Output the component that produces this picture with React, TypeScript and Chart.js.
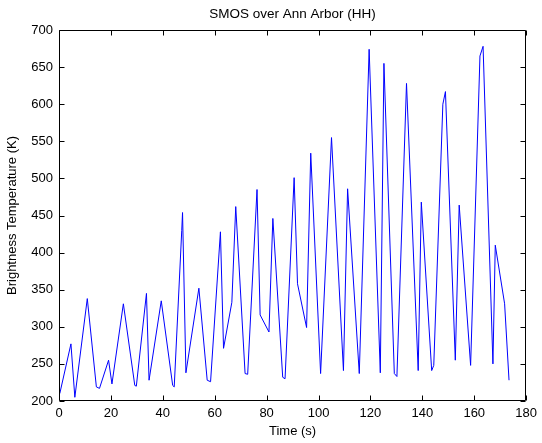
import React, { useEffect, useRef } from "react";
import { Chart, registerables } from "chart.js";
Chart.register(...registerables);

const titleText = "SMOS over Ann Arbor (HH)";
const xLabel = "Time (s)";
const yLabel = "Brightness Temperature (K)";

const times = [
  0.3, 4.6, 6.1, 10.9, 14.4, 15.6, 19.1, 20.4, 24.8, 29.2, 29.8, 33.7, 34.7,
  39.4, 43.8, 44.4, 47.3, 47.6, 48.9, 53.9, 57.1, 58.4, 62.2, 63.4, 66.6,
  68.1, 71.7, 72.7, 76.3, 77.5, 80.9, 82.4, 86.2, 87.1, 90.6, 91.9, 95.4,
  97.0, 100.8, 105.0, 109.6, 111.2, 115.7, 119.5, 123.8, 125.2, 129.2, 130.2,
  133.9, 138.4, 139.6, 143.6, 144.4, 147.9, 148.9, 152.7, 154.2, 158.6,
  162.2, 163.4, 167.2, 168.1, 171.7, 173.4,
];
const values = [
  210, 277, 205, 338, 219, 217, 255, 223, 331, 221, 220, 345, 228,
  335, 221, 219, 430, 454, 238, 352, 228, 226, 428, 271, 333,
  462, 237, 236, 485, 316, 293, 446, 232, 230, 501, 358, 299,
  534, 237, 555, 241, 486, 237, 674, 238, 655, 237, 233,
  628, 241, 468, 241, 248, 600, 617, 255, 464, 248,
  665, 678, 250, 410, 331, 228,
];

const xMin = 0, xMax = 180, xStep = 20;
const yMin = 200, yMax = 700, yStep = 50;

const FONT = "'Liberation Sans', Arial, Helvetica, sans-serif";

export default function App() {
  const ref = useRef<HTMLCanvasElement>(null);
  useEffect(() => {
    if (!ref.current) return;
    const framePlugin = {
      id: "matlabFrame",
      afterDraw(chart: any) {
        const { ctx, chartArea: a, scales } = chart;
        ctx.save();
        ctx.strokeStyle = "#000";
        ctx.lineWidth = 1;
        const L = Math.round(a.left) + 0.5;
        const R = Math.round(a.right) - 0.5;
        const T = Math.round(a.top) + 0.5;
        const B = Math.round(a.bottom) - 0.5;
        ctx.beginPath();
        ctx.rect(L, T, R - L, B - T);
        const len = 5;
        scales.x.ticks.forEach((t: any) => {
          const px = Math.round(scales.x.getPixelForValue(t.value)) + 0.5;
          ctx.moveTo(px, B);
          ctx.lineTo(px, B - len);
          ctx.moveTo(px, T);
          ctx.lineTo(px, T + len);
        });
        scales.y.ticks.forEach((t: any) => {
          const py = Math.round(scales.y.getPixelForValue(t.value)) + 0.5;
          ctx.moveTo(L, py);
          ctx.lineTo(L + len, py);
          ctx.moveTo(R, py);
          ctx.lineTo(R - len, py);
        });
        ctx.stroke();
        ctx.fillStyle = "#000";
        ctx.font = `13.5px ${FONT}`;
        ctx.textAlign = "center";
        ctx.textBaseline = "middle";
        ctx.fillText(titleText, (a.left + a.right) / 2, 14);
        ctx.restore();
      },
    };
    const chart = new Chart(ref.current, {
      type: "line",
      data: {
        datasets: [
          {
            data: times.map((t, i) => ({ x: t, y: values[i] })),
            borderColor: "#0000ff",
            borderWidth: 1,
            pointRadius: 0,
            tension: 0,
            fill: false,
          },
        ],
      },
      options: {
        animation: false,
        responsive: true,
        maintainAspectRatio: false,
        layout: { padding: { top: 30, right: 12, left: 0, bottom: 0 } },
        plugins: {
          legend: { display: false },
          tooltip: { enabled: false },
          title: { display: false },
        },
        scales: {
          x: {
            type: "linear",
            min: xMin,
            max: xMax,
            grid: { display: false, drawTicks: false },
            border: { display: false },
            ticks: {
              stepSize: xStep,
              color: "#000",
              padding: 5,
              font: { family: FONT, size: 13 },
              maxRotation: 0,
            },
            title: {
              display: true,
              text: xLabel,
              color: "#000",
              font: { family: FONT, size: 13 },
              padding: { top: 0, bottom: 4 },
            },
            afterFit(scale: any) {
              scale.height = 42;
            },
          },
          y: {
            type: "linear",
            min: yMin,
            max: yMax,
            grid: { display: false, drawTicks: false },
            border: { display: false },
            ticks: {
              stepSize: yStep,
              color: "#000",
              padding: 6,
              font: { family: FONT, size: 13 },
            },
            title: {
              display: true,
              text: yLabel,
              color: "#000",
              font: { family: FONT, size: 13 },
              padding: { top: 5, bottom: 0 },
            },
            afterFit(scale: any) {
              scale.width = 59;
            },
          },
        },
      },
      plugins: [framePlugin],
    });
    return () => chart.destroy();
  }, []);
  return (
    <div
      style={{
        position: "fixed",
        left: 0,
        top: 0,
        width: 542,
        height: 443,
        background: "#fff",
      }}
    >
      <canvas ref={ref} />
    </div>
  );
}
